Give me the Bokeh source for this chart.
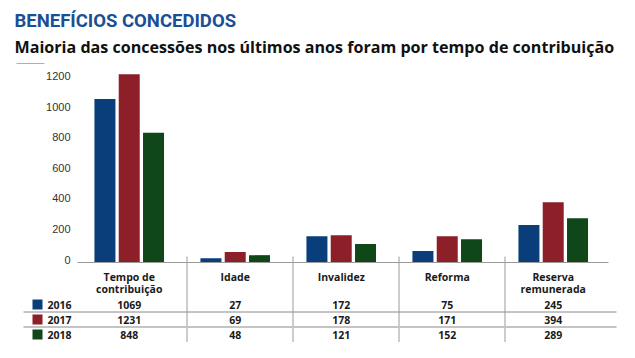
from bokeh.plotting import figure
from bokeh.models import Range1d
from bokeh.core.properties import value
from bokeh.embed import file_html
from bokeh.resources import INLINE

# ---- data ----
categories = ["Tempo de\ncontribuição", "Idade", "Invalidez", "Reforma", "Reserva\nremunerada"]
years = ["2016", "2017", "2018"]
v2016 = [1069, 27, 172, 75, 245]
v2017 = [1231, 69, 178, 171, 394]
v2018 = [848, 48, 121, 152, 289]
y_ticks = [0, 200, 400, 600, 800, 1000, 1200]
colors = ["#0a3e7b", "#8c1f28", "#0f4718"]
title_text = "BENEFÍCIOS CONCEDIDOS"
subtitle_text = "Maioria das concessões nos últimos anos foram por tempo de contribuição"

# ---- layout helpers (picture pixel -> data) ----
W, H = 619, 342
CELL = 106.0          # px per category
X0 = 133.5            # picture x of category 0 centre
BASE = 262.0          # picture y of value 0
SCALE = 0.153         # px per unit


def px_x(px):
    return (px - X0) / CELL


def px_y(py):
    return (BASE - py) / SCALE


p = figure(width=W, height=H, output_backend="svg", toolbar_location=None,
           x_range=Range1d(px_x(0), px_x(W)), y_range=Range1d(px_y(H), px_y(0)),
           min_border=0, min_border_left=0, min_border_right=0, min_border_top=0,
           min_border_bottom=0)
p.xaxis.visible = False
p.yaxis.visible = False
p.grid.visible = False
p.outline_line_color = None
p.background_fill_color = "white"
p.border_fill_color = "white"

n = len(categories)
idx = list(range(n))
gshift = -0.045
bw = 21 / CELL
pitch = 24.3 / CELL
series = [v2016, v2017, v2018]
for k, vals in enumerate(series):
    xs = [i + gshift + (k - 1) * pitch for i in idx]
    p.vbar(x=xs, top=vals, bottom=0, width=bw, fill_color=colors[k],
           line_color=None)

# baseline
p.segment(x0=[px_x(77)], x1=[px_x(608)], y0=[0], y1=[0], line_color="#9a9a9a", line_width=1)
# category separators
seps = [i + 0.5 for i in range(n - 1)]
p.segment(x0=seps, x1=seps, y0=[px_y(256)] * len(seps), y1=[px_y(360)] * len(seps),
          line_color="#9a9a9a", line_width=1)

# y tick labels
p.text(x=[px_x(70)] * len(y_ticks), y=y_ticks, text=[str(t) for t in y_ticks],
       text_align="right", text_baseline="middle", y_offset=-3,
       text_font=value("Liberation Sans"), text_font_size="11px", text_color="#333333")

# small decorative line top-left
p.segment(x0=[px_x(16)], x1=[px_x(44)], y0=[px_y(63)], y1=[px_y(63)], line_color="#b0b0b0", line_width=1)

# titles
p.text(x=[px_x(14)], y=[px_y(20)], text=[title_text], text_align="left", text_baseline="middle",
       text_font=value("Roboto"), text_font_style="bold", text_font_size="18.5px",
       text_color="#1b4f93")
p.text(x=[px_x(14)], y=[px_y(46)], text=[subtitle_text], text_align="left", text_baseline="middle",
       text_font=value("Open Sans"), text_font_style="bold", text_font_size="16.1px",
       text_color="#111111")

# table header (split lines)
line1 = [c.split("\n")[0] for c in categories]
line2 = [c.split("\n")[1] if "\n" in c else "" for c in categories]
tfont = dict(text_font=value("Open Sans"), text_font_style="bold", text_font_size="10.5px",
             text_color="#1a1a1a")
p.text(x=[i + gshift for i in idx], y=[px_y(276)] * n, text=line1, text_align="center",
       text_baseline="middle", **tfont)
p.text(x=[i + gshift for i in idx], y=[px_y(288)] * n, text=line2, text_align="center",
       text_baseline="middle", **tfont)

row_y = [304, 319, 334]
for k, vals in enumerate(series):
    yy = px_y(row_y[k])
    p.text(x=[i + gshift for i in idx], y=[yy] * n, text=[str(v) for v in vals],
           text_align="center", text_baseline="middle", **tfont)
    # legend square
    p.rect(x=[px_x(37)], y=[yy], width=10 / CELL, height=10 / SCALE,
           fill_color=colors[k], line_color=None)
    p.text(x=[px_x(47)], y=[yy], text=[years[k]], text_align="left", text_baseline="middle",
           **tfont)

# table row lines
p.segment(x0=[px_x(23)], x1=[px_x(616)], y0=[px_y(311.5)], y1=[px_y(311.5)],
          line_color="#8a8a8a", line_width=1)
p.segment(x0=[px_x(23)], x1=[px_x(616)], y0=[px_y(326.5)], y1=[px_y(326.5)],
          line_color="#c4c4c4", line_width=2)

open("out.html", "w").write(file_html(p, INLINE))
